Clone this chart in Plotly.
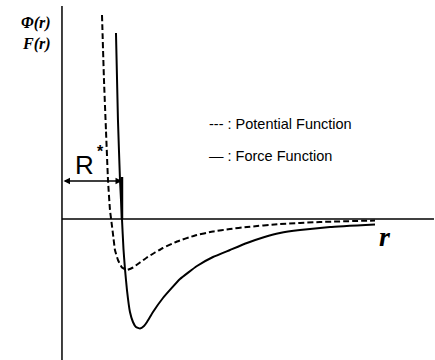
import plotly.graph_objects as go

# Reduced distance r / R* and reduced values
pot_r = [0.667, 0.700, 0.733, 0.767, 0.800, 0.825, 0.850, 0.883, 0.933, 1.000, 1.083, 1.183,
         1.300, 1.417, 1.550, 1.683, 1.917, 2.217, 2.517, 2.800, 3.083, 3.633, 4.300, 5.217]
pot_v = [4.08, 2.78, 1.78, 0.78, 0.18, -0.06, -0.30, -0.62, -0.82, -0.97, -1.02, -0.97,
         -0.87, -0.77, -0.67, -0.58, -0.45, -0.33, -0.25, -0.20, -0.16, -0.10, -0.06, -0.03]

force_r = [0.900, 0.933, 0.967, 1.000, 1.025, 1.050, 1.083, 1.133, 1.183, 1.233, 1.300,
           1.367, 1.417, 1.517, 1.683, 1.967, 2.250, 2.517, 2.800, 3.083, 3.350, 3.633,
           3.967, 4.467, 5.217]
force_v = [3.72, 1.98, 0.78, 0.00, -0.60, -1.00, -1.42, -1.86, -2.06, -2.16, -2.19,
           -2.14, -2.06, -1.86, -1.58, -1.20, -0.94, -0.76, -0.62, -0.48, -0.37, -0.28,
           -0.22, -0.16, -0.11]

r_star = 1.0
y_label = "<b><i>Φ(r)</i></b><br><b><i>F(r)</i></b>"
legend_labels = ["--- : Potential Function", "— : Force Function"]

X_RANGE = [-1.033, 6.217]
Y_RANGE = [-2.82, 4.38]

fig = go.Figure()
fig.add_trace(go.Scatter(x=pot_r, y=pot_v, mode="lines",
                         line=dict(color="black", width=2, dash="6px,3px", shape="spline", smoothing=0.35),
                         hoverinfo="skip"))
fig.add_trace(go.Scatter(x=force_r, y=force_v, mode="lines",
                         line=dict(color="black", width=2, shape="spline", smoothing=0.35),
                         hoverinfo="skip"))

# axes lines
fig.add_shape(type="line", x0=0, x1=0, y0=Y_RANGE[0], y1=4.26, line=dict(color="black", width=1.5))
fig.add_shape(type="line", x0=0, x1=6.2, y0=0, y1=0, line=dict(color="black", width=1.5))
# R* marker tick
fig.add_shape(type="line", x0=r_star, x1=r_star, y0=0, y1=0.84, line=dict(color="black", width=2.5))

# double arrow for R*
fig.add_annotation(x=r_star, y=0.76, ax=0, ay=0.76, xref="x", yref="y", axref="x", ayref="y",
                   text="", showarrow=True, arrowside="start+end", arrowhead=2, arrowsize=1,
                   arrowwidth=1.3, arrowcolor="black")

fig.add_annotation(x=0.367, y=1.08, text="R", showarrow=False,
                   font=dict(family="Liberation Sans, Arial", size=26, color="black"))
fig.add_annotation(x=0.65, y=1.36, text="<b>*</b>", showarrow=False,
                   font=dict(family="Liberation Sans, Arial", size=16, color="black"))

# y axis label (two lines)
fig.add_annotation(x=-0.15, y=3.72, xanchor="right", align="right", text=y_label, showarrow=False,
                   font=dict(family="Liberation Serif, Times New Roman", size=16, color="black"))
# x axis label
fig.add_annotation(x=5.383, y=-0.34, text="<b><i>r</i></b>", showarrow=False,
                   font=dict(family="Liberation Serif, Times New Roman", size=28, color="black"))

# legend texts
for lab, yv in zip(legend_labels, [1.90, 1.26]):
    fig.add_annotation(x=2.417, y=yv, xanchor="left", text=lab, showarrow=False,
                       font=dict(family="Liberation Sans, Arial", size=14.5, color="black"))

fig.update_layout(width=435, height=360, margin=dict(l=0, r=0, t=0, b=0),
                  paper_bgcolor="white", plot_bgcolor="white", showlegend=False,
                  xaxis=dict(range=X_RANGE, visible=False, fixedrange=True),
                  yaxis=dict(range=Y_RANGE, visible=False, fixedrange=True))

fig.write_html("out.html")
